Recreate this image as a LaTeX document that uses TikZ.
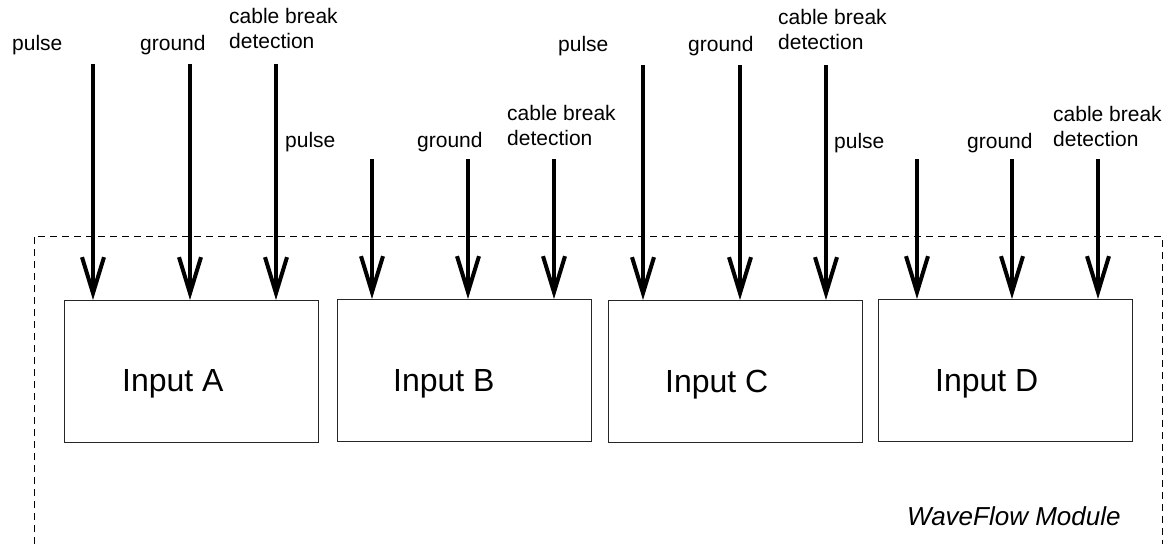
\documentclass[tikz,border=0pt]{standalone}
\usepackage{fontspec}
\setmainfont{Liberation Sans}
\usetikzlibrary{arrows.meta}
\begin{document}
\begin{tikzpicture}[x=1pt,y=-1pt,
  inbox/.style={draw=black!85, line width=1pt, minimum width=254pt, minimum height=142pt, anchor=north west, inner sep=0pt},
  sig/.style={line width=4pt, -{Straight Barb[length=36pt,width=22pt]}},
  lab/.style={font=\fontsize{21}{25}\selectfont, inner sep=0pt, anchor=base west, align=left},
  intext/.style={font=\fontsize{32}{38}\selectfont, inner sep=0pt, anchor=base west},
  modtext/.style={font=\fontsize{26}{30}\selectfont\itshape, inner sep=0pt, anchor=base west},
  frame/.style={line width=0.8pt, dash pattern=on 7pt off 5pt}]
\useasboundingbox (0,0) rectangle (1173,544);
% module frame
\coordinate (fl) at (34,544);
\coordinate (ftl) at (34,236);
\coordinate (ftr) at (1162,236);
\coordinate (fr) at (1162,544);
\draw[frame] (fl) -- (ftl) -- (ftr) -- (fr);
\node[modtext] (mod) at (907,525) {WaveFlow Module};
% boxes
\node[inbox] (A) at (64,300) {};
\node[inbox] (B) at (337,299) {};
\node[inbox] (C) at (608,300) {};
\node[inbox] (D) at (878,299) {};
\node[intext] (tA) at (122,391) {Input A};
\node[intext] (tB) at (393,391) {Input B};
\node[intext] (tC) at (665,392) {Input C};
\node[intext] (tD) at (935,391) {Input D};
% signal sources
\coordinate (a1) at (93,64);  \coordinate (a2) at (190,64);  \coordinate (a3) at (276,64);
\coordinate (b1) at (372,159); \coordinate (b2) at (468,159); \coordinate (b3) at (554,159);
\coordinate (c1) at (643,65);  \coordinate (c2) at (740,65);  \coordinate (c3) at (826,65);
\coordinate (d1) at (917,159); \coordinate (d2) at (1012,159); \coordinate (d3) at (1098,159);
\foreach \g/\bx in {a/A,b/B,c/C,d/D}{
  \foreach \i in {1,2,3}{
    \draw[sig] (\g\i) -- (\g\i |- \bx.north);
  }
}
% labels
\node[lab] (la1) at (12,50) {pulse};
\node[lab] (la2) at (140,50) {ground};
\node[lab] (la3) at (229,48) {cable break\\detection};
\node[lab] (lb1) at (285,147) {pulse};
\node[lab] (lb2) at (417,147) {ground};
\node[lab] (lb3) at (507,145) {cable break\\detection};
\node[lab] (lc1) at (558,51) {pulse};
\node[lab] (lc2) at (688,51) {ground};
\node[lab] (lc3) at (778,49) {cable break\\detection};
\node[lab] (ld1) at (834,148) {pulse};
\node[lab] (ld2) at (967,148) {ground};
\node[lab] (ld3) at (1053,146) {cable break\\detection};
\end{tikzpicture}
\end{document}
